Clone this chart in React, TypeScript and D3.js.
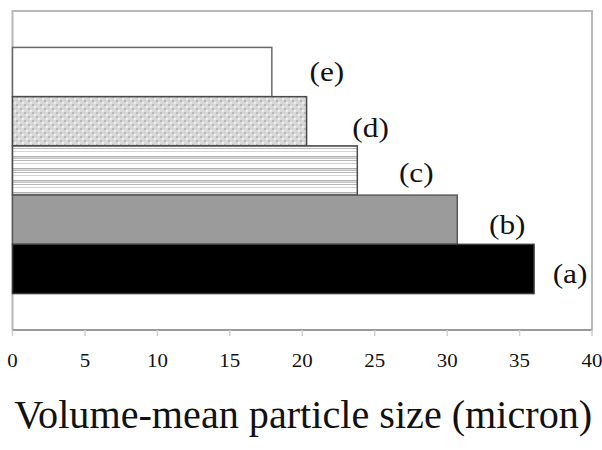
import React from "react";
import * as d3 from "d3";

// Samples, listed top to bottom as drawn
const samples = ["(e)", "(d)", "(c)", "(b)", "(a)"];
// Volume-mean particle size, micron
const sizes = [17.9, 20.3, 23.8, 30.7, 36.0];
const xTicks = [0, 5, 10, 15, 20, 25, 30, 35, 40];
const axisTitle = "Volume-mean particle size (micron)";

const W = 602;
const H = 450;
const plot = { left: 12.5, right: 592, top: 11, bottom: 330 };
// horizontal gap (px) between bar end and its label, per sample
const labelGap = [55, 64, 59, 50, 36];
const labelDy = [0, 6, 2, 5, 5];
const fills = ["#ffffff", "url(#checker)", "url(#hlines)", "#9b9b9b", "#000000"];
const strokes = ["#6a6a6a", "#4a4a4a", "#4a4a4a", "#5a5a5a", "#3a3a3a"];

export default function App() {
  const x = d3.scaleLinear().domain([0, 40]).range([plot.left, plot.right]);
  const y = d3
    .scaleBand<string>()
    .domain(samples)
    .range([plot.top, plot.bottom])
    .paddingInner(0)
    .paddingOuter(0.74);

  const font = "'Liberation Serif', 'Times New Roman', serif";

  return (
    <svg
      width={W}
      height={H}
      style={{ position: "absolute", left: 0, top: 0, background: "#fff" }}
      fontFamily={font}
    >
      <defs>
        <pattern id="checker" width="8" height="8" patternUnits="userSpaceOnUse">
          <rect width="8" height="8" fill="#d8d8d8" />
          <rect x="0" y="0" width="2" height="2" fill="#b8b8b8" />
          <rect x="4" y="4" width="2" height="2" fill="#b8b8b8" />
          <rect x="2" y="2" width="2" height="2" fill="#ececec" />
          <rect x="6" y="6" width="2" height="2" fill="#ececec" />
          <rect x="0" y="4" width="1" height="1" fill="#c4c4c4" />
          <rect x="4" y="0" width="1" height="1" fill="#c4c4c4" />
        </pattern>
        <pattern id="hlines" width="10" height="12" patternUnits="userSpaceOnUse">
          <rect width="10" height="12" fill="#ffffff" />
          <rect x="0" y="0" width="10" height="1" fill="#b0b0b0" />
          <rect x="0" y="1" width="10" height="1" fill="#dadada" />
          <rect x="0" y="2" width="10" height="1" fill="#c0c0c0" />
          <rect x="0" y="4" width="10" height="1" fill="#b8b8b8" />
          <rect x="0" y="7" width="10" height="1" fill="#d4d4d4" />
        </pattern>
      </defs>

      {/* plot frame */}
      <rect
        x={plot.left}
        y={plot.top}
        width={plot.right - plot.left}
        height={plot.bottom - plot.top}
        fill="none"
        stroke="#b8b8b8"
        strokeWidth={2}
      />

      {/* bars */}
      {samples.map((s, i) => (
        <rect
          key={s}
          x={x(0)}
          y={y(s)}
          width={x(sizes[i]) - x(0)}
          height={y.bandwidth()}
          fill={fills[i]}
          stroke={strokes[i]}
          strokeWidth={1.5}
        />
      ))}

      {/* bar labels */}
      {samples.map((s, i) => (
        <text
          key={"l" + s}
          transform={`translate(${x(sizes[i]) + labelGap[i]},${(y(s) ?? 0) + y.bandwidth() / 2 + labelDy[i]}) scale(1.12,1)`}
          textAnchor="middle"
          dominantBaseline="central"
          fontSize={28}
          fill="#111"
        >
          {s}
        </text>
      ))}

      {/* x axis */}
      <line x1={plot.left} x2={plot.right} y1={plot.bottom} y2={plot.bottom} stroke="#9a9a9a" strokeWidth={2} />
      {xTicks.map((t) => (
        <g key={t}>
          <line x1={x(t)} x2={x(t)} y1={plot.bottom} y2={plot.bottom + 6} stroke="#cfcfcf" strokeWidth={1.5} />
          <text
            transform={`translate(${x(t)},367) scale(1.1,1)`}
            textAnchor="middle"
            fontSize={19}
            fill="#111"
          >
            {t}
          </text>
        </g>
      ))}

      <text
        x={(plot.left + plot.right) / 2 + 1}
        y={428}
        textAnchor="middle"
        fontSize={39}
        textLength={578}
        lengthAdjust="spacingAndGlyphs"
        fill="#111"
      >
        {axisTitle}
      </text>
    </svg>
  );
}
